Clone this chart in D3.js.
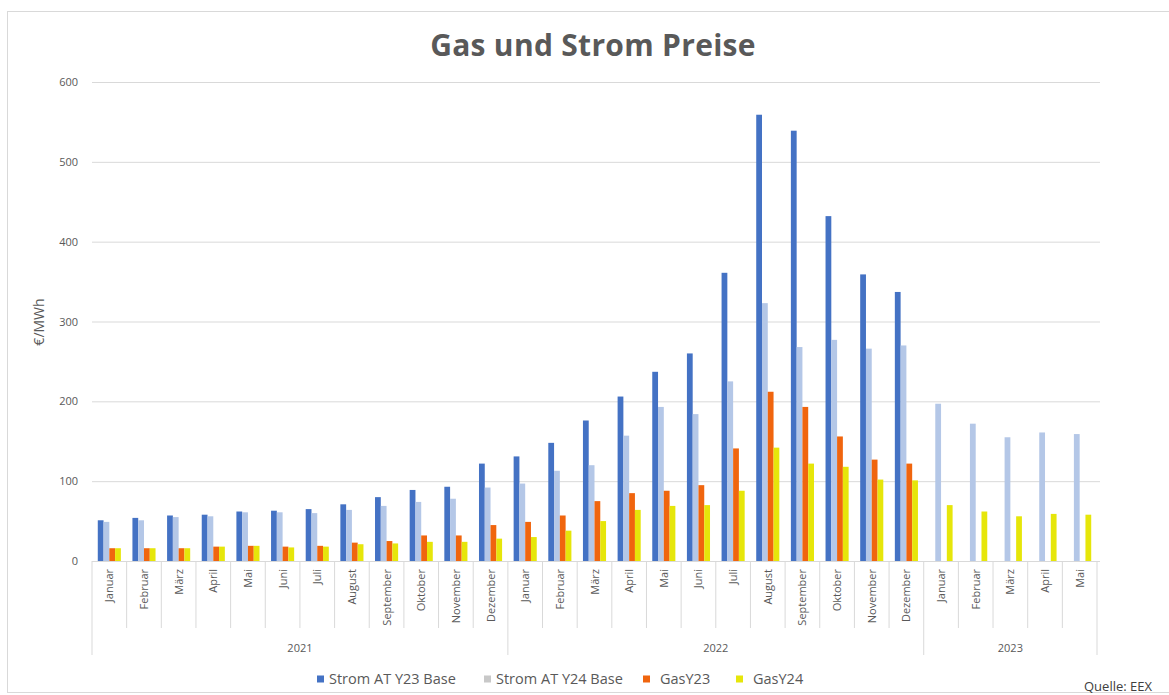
<!DOCTYPE html>
<html>
<head>
<meta charset="utf-8">
<script src="https://cdn.jsdelivr.net/npm/d3@7"></script>
<style>
  body { margin: 0; background: #fff; }
  svg { display: block; font-family: "Open Sans", sans-serif; }
</style>
</head>
<body>
<svg id="chart" width="1169" height="695"></svg>
<script>
// months per category, year groups
var months = ["Januar","Februar","März","April","Mai","Juni","Juli","August","September","Oktober","November","Dezember",
              "Januar","Februar","März","April","Mai","Juni","Juli","August","September","Oktober","November","Dezember",
              "Januar","Februar","März","April","Mai"];
var years = [{label: "2021", count: 12}, {label: "2022", count: 12}, {label: "2023", count: 5}];

var seriesNames = ["Strom AT Y23 Base", "Strom AT Y24 Base", "GasY23", "GasY24"];
var seriesColors = ["#4472C4", "#B4C7E7", "#F0650E", "#E6E60A"];

var stromY23 = [51,54,57,58,62,63,65,71,80,89,93,122, 131,148,176,206,237,260,361,559,539,432,359,337, null,null,null,null,null];
var stromY24 = [49,51,55,56,61,61,60,64,69,74,78,92, 97,113,120,157,193,184,225,323,268,277,266,270, 197,172,155,161,159];
var gasY23   = [16,16,16,18,19,18,19,23,25,32,32,45, 49,57,75,85,88,95,141,212,193,156,127,122, null,null,null,null,null];
var gasY24   = [16,16,16,18,19,17,18,21,22,24,24,28, 30,38,50,64,69,70,88,142,122,118,102,101, 70,62,56,59,58];

var yTicks = [0,100,200,300,400,500,600];

var series = [stromY23, stromY24, gasY23, gasY24];

var svg = d3.select("#chart");
var plotLeft = 92, plotRight = 1097, plotTop = 82, plotBottom = 561;

// chart frame
svg.append("rect")
    .attr("x", 7.5).attr("y", 11.5)
    .attr("width", 1180).attr("height", 681)
    .attr("fill", "none").attr("stroke", "#d9d9d9");

svg.append("text")
    .attr("x", 593).attr("y", 56)
    .attr("text-anchor", "middle")
    .attr("font-size", 30).attr("font-weight", "bold")
    .attr("letter-spacing", 0.3)
    .attr("fill", "#595959")
    .text("Gas und Strom Preise");

var x0 = d3.scaleBand()
    .domain(d3.range(months.length))
    .range([plotLeft, plotRight]);

var x1 = d3.scaleBand()
    .domain(d3.range(series.length))
    .range([0, x0.bandwidth()])
    .paddingOuter(1);

var y = d3.scaleLinear()
    .domain([0, 600])
    .range([plotBottom, plotTop]);

// gridlines + y labels
var yAxis = svg.append("g")
    .attr("transform", "translate(" + plotLeft + ",0)")
    .call(d3.axisLeft(y).tickValues(yTicks).tickSize(-(plotRight - plotLeft + 3)).tickPadding(14));
yAxis.select(".domain").remove();
yAxis.selectAll(".tick line").attr("stroke", "#d9d9d9");
yAxis.selectAll(".tick text")
    .attr("fill", "#595959")
    .attr("font-size", 11)
    .attr("font-family", "Open Sans, sans-serif");

svg.append("text")
    .attr("transform", "translate(44,322) rotate(-90)")
    .attr("text-anchor", "middle")
    .attr("font-size", 14)
    .attr("fill", "#595959")
    .text("€/MWh");

// bars
series.forEach(function(vals, s) {
  svg.append("g")
    .selectAll("rect")
    .data(vals.map(function(v, i) { return {i: i, v: v}; }).filter(function(d) { return d.v != null; }))
    .join("rect")
      .attr("x", function(d) { return x0(d.i) + x1(s); })
      .attr("y", function(d) { return y(d.v); })
      .attr("width", x1.bandwidth())
      .attr("height", function(d) { return y(0) - y(d.v); })
      .attr("fill", seriesColors[s]);
});

// category axis: month separators and labels
var boundaries = d3.range(months.length + 1);
var yearStarts = [0];
years.forEach(function(yr, k) { yearStarts.push(yearStarts[k] + yr.count); });

svg.append("g")
  .selectAll("line")
  .data(boundaries)
  .join("line")
    .attr("x1", function(i) { return i < months.length ? x0(i) : plotRight; })
    .attr("x2", function(i) { return i < months.length ? x0(i) : plotRight; })
    .attr("y1", plotBottom)
    .attr("y2", function(i) { return yearStarts.indexOf(i) >= 0 ? 655 : 628; })
    .attr("stroke", "#d9d9d9");

svg.append("g")
  .selectAll("text")
  .data(months)
  .join("text")
    .attr("transform", function(d, i) {
      return "translate(" + (x0(i) + x0.bandwidth() / 2 + 4) + ",569) rotate(-90)";
    })
    .attr("text-anchor", "end")
    .attr("font-size", 11)
    .attr("fill", "#595959")
    .text(function(d) { return d; });

svg.append("g")
  .selectAll("text")
  .data(years)
  .join("text")
    .attr("x", function(d, k) { return (x0(yearStarts[k]) + (yearStarts[k + 1] < months.length ? x0(yearStarts[k + 1]) : plotRight)) / 2; })
    .attr("y", 652)
    .attr("text-anchor", "middle")
    .attr("font-size", 11)
    .attr("fill", "#595959")
    .text(function(d) { return d.label; });

// legend
var legendX = [317, 484, 643, 736];
var legend = svg.append("g")
  .selectAll("g")
  .data(seriesNames)
  .join("g")
    .attr("transform", function(d, i) { return "translate(" + legendX[i] + ",679)"; });
legend.append("rect")
    .attr("x", 0).attr("y", -3.5)
    .attr("width", 7).attr("height", 7)
    .attr("fill", function(d, i) { return i === 1 ? "#c8c8c8" : seriesColors[i]; });
legend.append("text")
    .attr("x", function(d, i) { return i < 2 ? 12 : 17; })
    .attr("y", 5)
    .attr("font-size", 14.5)
    .attr("fill", "#595959")
    .text(function(d) { return d; });

svg.append("text")
    .attr("x", 1152).attr("y", 691)
    .attr("text-anchor", "end")
    .attr("font-size", 13)
    .attr("fill", "#404040")
    .text("Quelle: EEX");
</script>
</body>
</html>
